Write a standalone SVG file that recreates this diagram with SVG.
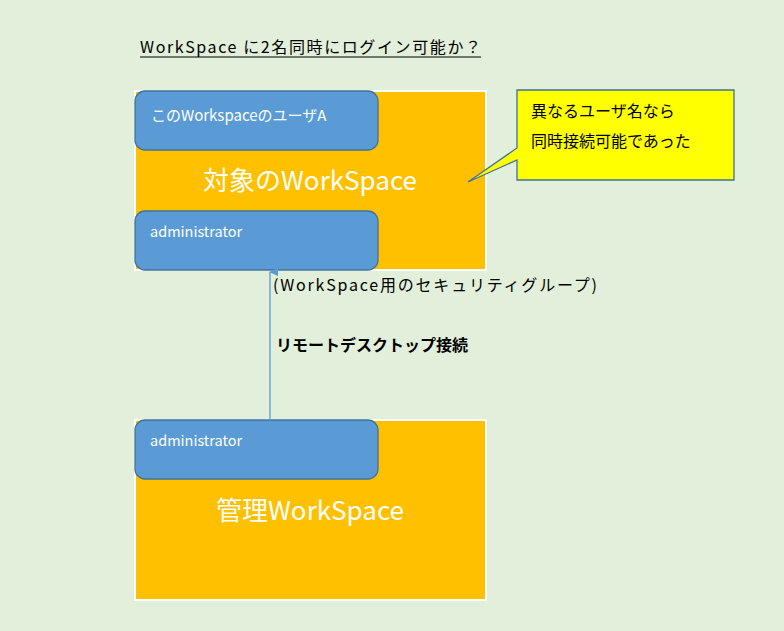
<svg xmlns="http://www.w3.org/2000/svg" width="784" height="631" viewBox="0 0 784 631">
<defs>
<style>
.t{font-family:"Noto Sans CJK JP","Noto Sans",sans-serif}
.ws{fill:#ffc000;stroke:#ffffff;stroke-width:2}
.u{fill:#5b9bd5;stroke:#41719c;stroke-width:1.3}
.w{fill:#ffffff}
</style>
<marker id="a" markerWidth="10" markerHeight="10" refX="5" refY="1" orient="auto" markerUnits="userSpaceOnUse"><path d="M1,9 L5,0 L9,9 Z" fill="#5b9bd5"/></marker>
</defs>
<rect x="0" y="0" width="784" height="631" fill="#e2efda"/>
<text class="t" x="140" y="53" font-size="16" fill="#000" textLength="341">WorkSpace に2名同時にログイン可能か？</text>
<line x1="140" y1="57" x2="481" y2="57" stroke="#000" stroke-width="1"/>
<g id="target">
<rect class="ws" x="135" y="91" width="351" height="179"/>
<text class="t w" x="310" y="190" font-size="26" text-anchor="middle">対象のWorkSpace</text>
</g>
<g id="userA">
<rect class="u" x="135" y="91" width="243" height="59" rx="10"/>
<text class="t w" x="151" y="121" font-size="15">このWorkspaceのユーザA</text>
</g>
<g id="admin1">
<rect class="u" x="135" y="211" width="243" height="59" rx="10"/>
<text class="t w" x="150" y="237" font-size="14.5">administrator</text>
</g>
<g id="callout">
<path d="M517,90 H734 V180 H517 V160 L468,182 L517,148 Z" fill="#ffff00" stroke="#41719c" stroke-width="1.3"/>
<text class="t" x="531" y="117" font-size="16" fill="#000">異なるユーザ名なら</text>
<text class="t" x="531" y="147" font-size="16" fill="#000">同時接続可能であった</text>
</g>
<g id="mgmt">
<rect class="ws" x="135" y="420" width="351" height="180"/>
<text class="t w" x="310" y="520" font-size="26" text-anchor="middle">管理WorkSpace</text>
</g>
<g id="admin2">
<rect class="u" x="135" y="420" width="243" height="59" rx="10"/>
<text class="t w" x="150" y="446" font-size="14.5">administrator</text>
</g>
<g id="connectors">
<line x1="270" y1="420" x2="270" y2="272" stroke="#5b9bd5" stroke-width="1.3" marker-end="url(#a)"/>
<text class="t" x="273" y="291" font-size="16" fill="#000" textLength="324">(WorkSpace用のセキュリティグループ)</text>
<text class="t" x="276" y="351" font-size="16" font-weight="bold" fill="#000">リモートデスクトップ接続</text>
</g>
</svg>
